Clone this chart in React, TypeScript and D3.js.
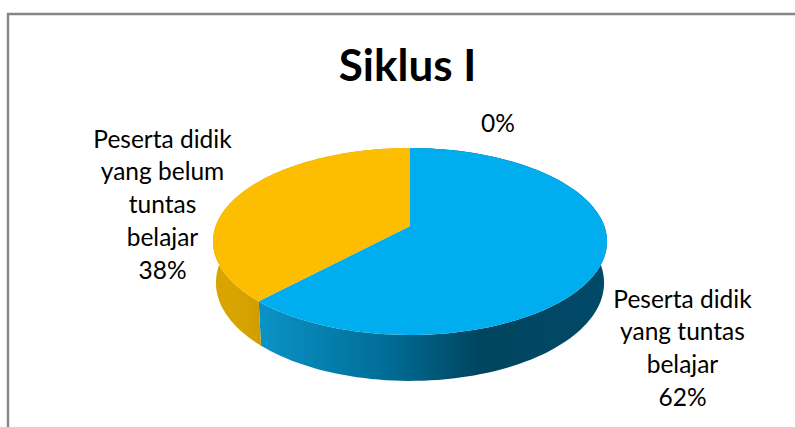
import React from "react";
import * as d3 from "d3";

const categories = ["Peserta didik yang tuntas belajar", "", "Peserta didik yang belum tuntas belajar"];
const values = [62, 0, 38];
const titleText = "Siklus I";
const labelLines = [
  ["Peserta didik", "yang tuntas", "belajar", "62%"],
  ["0%"],
  ["Peserta didik", "yang belum", "tuntas", "belajar", "38%"],
];
const topColors = ["#00aeef", "#00aeef", "#fdbd00"];
const blueStops: [number, string][] = [[0, "#0a92c6"], [0.37, "#006c95"], [0.63, "#00455f"], [1, "#004a68"]];
const goldStops: [number, string][] = [[0, "#d9a600"], [0.7, "#d6a200"], [1, "#cf9c00"]];

const labelAnchors = [[682.5, 307.5], [498, 132], [162.5, 147.5]];
const cx = 410, cy0 = 226, A = 194.3, B = 90.9, k = 0.1657;
const project = (t: number) => {
  const u = Math.sin(t), v = -Math.cos(t), w = 1 - k * v;
  return [cx + (A * u) / w, cy0 + (B * v) / w];
};
const lower = (t: number) => {
  const [x, y] = project(t);
  return [cx + (x - cx) * 0.985, cy0 + (y - cy0) * 1.05 + 40.5];
};
const line = d3.line<number[]>();
const sample = (a0: number, a1: number) => d3.range(0, 121).map((i) => a0 + ((a1 - a0) * i) / 120);

export default function App() {
  const arcs = d3.pie<number>().sort(null)(values);
  return (
    <svg width={795} height={427} style={{ position: "absolute", left: 0, top: 0, background: "#fff" }}
      fontFamily="Lato, Carlito, sans-serif">
      <defs>
        <linearGradient id="gBlue" gradientUnits="userSpaceOnUse" x1={262} x2={607} y1={0} y2={0}>
          {blueStops.map(([o, c]) => <stop key={o} offset={o} stopColor={c} />)}
        </linearGradient>
        <linearGradient id="gGold" gradientUnits="userSpaceOnUse" x1={213} x2={262} y1={0} y2={0}>
          {goldStops.map(([o, c]) => <stop key={o} offset={o} stopColor={c} />)}
        </linearGradient>
      </defs>
      <path d="M8 427V14H795" fill="none" stroke="#868686" strokeWidth={2.4} />
      <text x={407.5} y={81} textAnchor="middle" fontSize={44} fontWeight={700} fill="#000">{titleText}</text>
      {arcs.map((a, i) => a.value > 0 && (
        <path key={"s" + i}
          d={line([...sample(a.startAngle, a.endAngle).map(project), ...sample(a.startAngle, a.endAngle).reverse().map(lower)]) + "Z"}
          fill={categories[i].includes("belum") ? "url(#gGold)" : "url(#gBlue)"} />
      ))}
      {arcs.map((a, i) => a.value > 0 && (
        <path key={"t" + i}
          d={line([[cx, cy0], ...sample(a.startAngle, a.endAngle).map(project)]) + "Z"}
          fill={topColors[i]} />
      ))}
      {labelLines.map((lines, i) => (
        <text key={i} textAnchor="middle" fontSize={24.5} fill="#000">
          {lines.map((l, j) => <tspan key={j} x={labelAnchors[i][0]} y={labelAnchors[i][1] + j * 32.8}>{l}</tspan>)}
        </text>
      ))}
    </svg>
  );
}
